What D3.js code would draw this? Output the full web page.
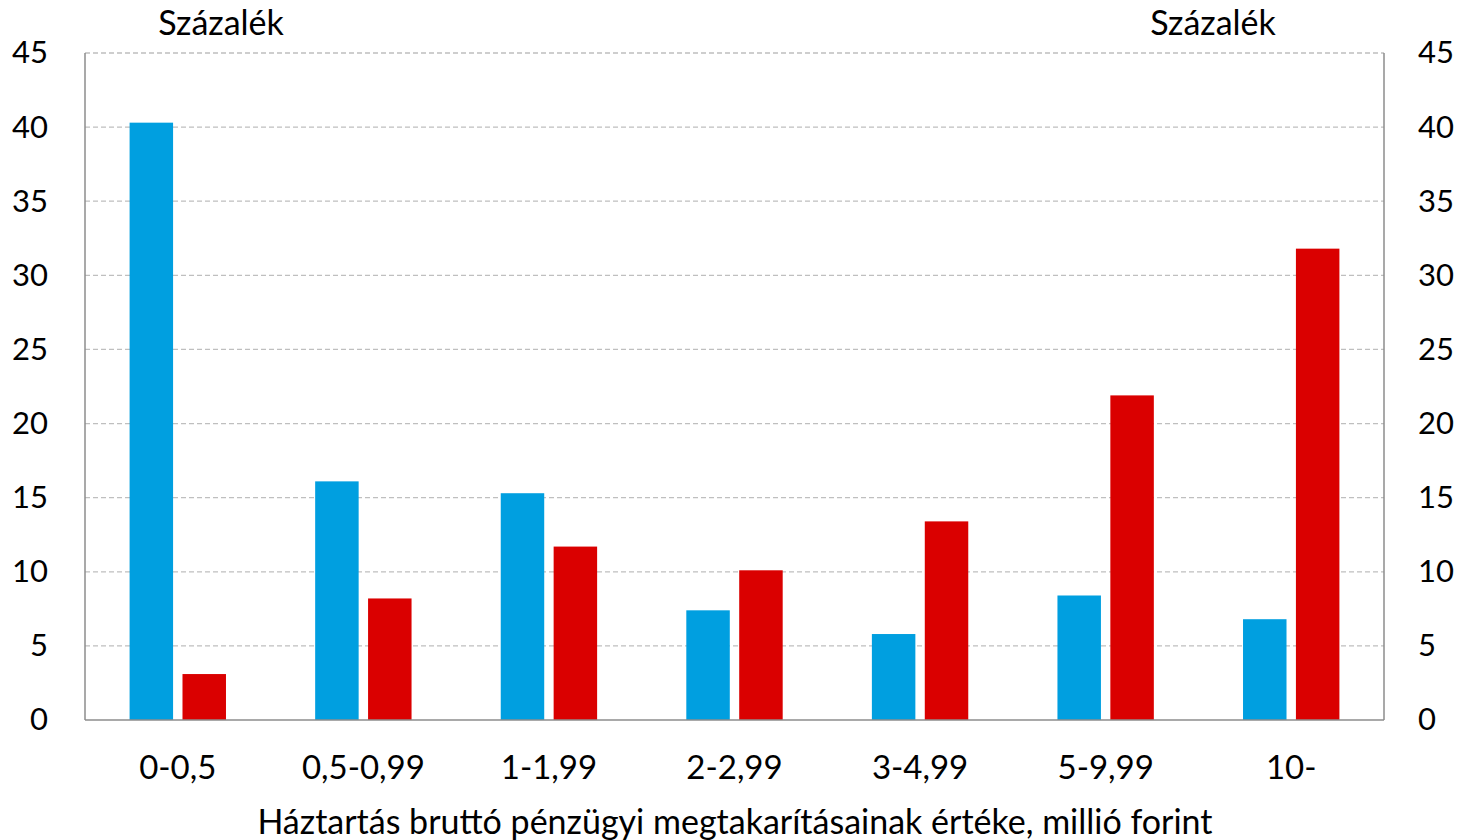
<!DOCTYPE html>
<html>
<head>
<meta charset="utf-8">
<script src="https://cdn.jsdelivr.net/npm/d3@7"></script>
<style>
  body { margin: 0; background: #fff; }
  svg text { font-family: Lato, "Noto Sans", sans-serif; fill: #000; }
</style>
</head>
<body>
<div id="chart"></div>
<script>
// Category and series data
const categories = ['0-0,5', '0,5-0,99', '1-1,99', '2-2,99', '3-4,99', '5-9,99', '10-'];
const seriesNames = ['blue', 'red'];
const blueValues = [40.3, 16.1, 15.3, 7.4, 5.8, 8.4, 6.8];
const redValues = [3.1, 8.2, 11.7, 10.1, 13.4, 21.9, 31.8];
const yTicks = [0, 5, 10, 15, 20, 25, 30, 35, 40, 45];
const unitLabel = 'Százalék';
const xTitle = 'Háztartás bruttó pénzügyi megtakarításainak értéke, millió forint';

const colors = { blue: '#009FE0', red: '#DA0000' };

const W = 1457, H = 840;
const margin = { top: 53, right: 73, bottom: 120, left: 85 };
const innerW = W - margin.left - margin.right;
const innerH = H - margin.top - margin.bottom;

const svg = d3.select('#chart').append('svg')
  .attr('width', W)
  .attr('height', H);

const g = svg.append('g')
  .attr('transform', `translate(${margin.left},${margin.top})`);

const y = d3.scaleLinear().domain([0, 45]).range([innerH, 0]);

const x0 = d3.scaleBand().domain(categories).range([0, innerW]).padding(0);
const x1 = d3.scaleBand().domain(seriesNames).range([0, x0.bandwidth()])
  .paddingInner(0.178)
  .paddingOuter(0.843);

// Dashed gridlines
g.selectAll('.grid')
  .data(yTicks.filter(t => t > 0))
  .enter()
  .append('line')
  .attr('class', 'grid')
  .attr('x1', 0)
  .attr('x2', innerW)
  .attr('y1', d => y(d))
  .attr('y2', d => y(d))
  .style('stroke', '#BFBFBF')
  .style('stroke-width', 1.3)
  .style('stroke-dasharray', '5,3');

// Bars
const rows = categories.map((c, i) => ({ cat: c, blue: blueValues[i], red: redValues[i] }));
const groups = g.selectAll('.grp')
  .data(rows)
  .enter()
  .append('g')
  .attr('transform', d => `translate(${x0(d.cat)},0)`);

groups.selectAll('rect')
  .data(d => seriesNames.map(s => ({ s, v: d[s] })))
  .enter()
  .append('rect')
  .attr('x', d => x1(d.s))
  .attr('y', d => y(d.v))
  .attr('width', x1.bandwidth())
  .attr('height', d => innerH - y(d.v))
  .style('fill', d => colors[d.s]);

// Axis frame lines
const axisColor = '#8C8C8C';
g.append('line').attr('x1', 0).attr('x2', 0).attr('y1', 0).attr('y2', innerH)
  .style('stroke', axisColor).style('stroke-width', 1.5);
g.append('line').attr('x1', innerW).attr('x2', innerW).attr('y1', 0).attr('y2', innerH)
  .style('stroke', axisColor).style('stroke-width', 1.5);
g.append('line').attr('x1', 0).attr('x2', innerW).attr('y1', innerH).attr('y2', innerH)
  .style('stroke', axisColor).style('stroke-width', 1.5);

// Left and right tick labels
const leftAxis = d3.axisLeft(y).tickValues(yTicks).tickSize(0).tickPadding(37);
const rightAxis = d3.axisRight(y).tickValues(yTicks).tickSize(0).tickPadding(34);

g.append('g').call(leftAxis)
  .call(a => a.select('.domain').remove())
  .selectAll('text')
  .style('font-size', '31px')
  .style('font-family', 'Lato, "Noto Sans", sans-serif');

g.append('g').attr('transform', `translate(${innerW},0)`).call(rightAxis)
  .call(a => a.select('.domain').remove())
  .selectAll('text')
  .style('font-size', '31px')
  .style('font-family', 'Lato, "Noto Sans", sans-serif');

// Category labels
const xAxis = d3.axisBottom(x0).tickSize(0).tickPadding(36);
g.append('g').attr('transform', `translate(0,${innerH})`).call(xAxis)
  .call(a => a.select('.domain').remove())
  .selectAll('text')
  .style('font-size', '33px')
  .style('font-family', 'Lato, "Noto Sans", sans-serif');

// Unit labels
svg.append('text')
  .attr('x', 221).attr('y', 35)
  .attr('text-anchor', 'middle')
  .style('font-size', '34px')
  .text(unitLabel);

svg.append('text')
  .attr('x', 1213).attr('y', 35)
  .attr('text-anchor', 'middle')
  .style('font-size', '34px')
  .text(unitLabel);

// X axis title
svg.append('text')
  .attr('x', 735).attr('y', 834)
  .attr('text-anchor', 'middle')
  .style('font-size', '34px')
  .text(xTitle);
</script>
</body>
</html>
